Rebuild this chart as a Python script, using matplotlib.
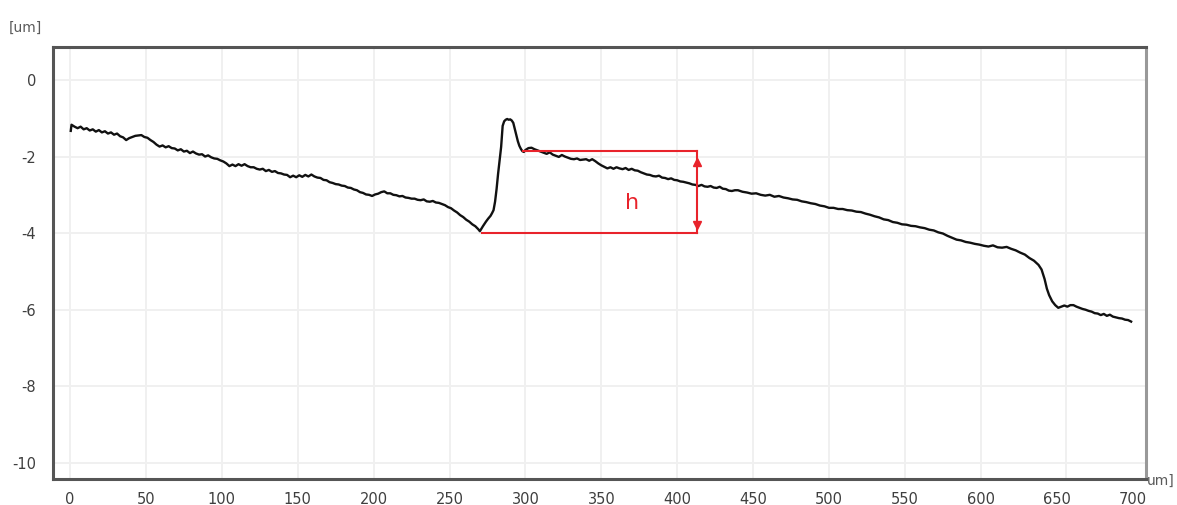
import numpy as np
import matplotlib
matplotlib.use('Agg')
import matplotlib.pyplot as plt

# ===== profile data (um) =====
x_um = [0.5, 1, 3, 5, 7, 9, 11, 13, 15, 17, 19, 21, 23, 25, 27, 29, 31, 33, 35, 37, 39, 41, 43, 45, 47, 49,
        51, 53, 55, 57, 59, 61, 63, 65, 67, 69, 71, 73, 75, 77, 79, 81, 83, 85, 87, 89, 91, 93, 95, 97, 99,
        101, 103, 105, 107, 109, 111, 113, 115, 117, 119, 121, 123, 125, 127, 129, 131, 133, 135, 137, 139,
        141, 143, 145, 147,
        149, 151, 153, 155, 157, 159, 161, 163, 165, 167, 169, 171, 173, 175, 177, 179, 181, 183, 185, 187,
        189, 191, 193, 195, 197, 199,
        201, 203, 205, 207, 209, 211, 213, 215, 217, 219, 221, 223, 225, 227, 229, 231, 233, 235, 237, 239,
        241, 243, 245, 247, 249,
        251, 253, 255, 257, 259, 261, 263, 265, 267, 269, 270,
        272, 274, 275.5, 277, 278, 279, 280, 281, 282, 283, 284, 285, 286, 287, 288, 289, 290, 291, 292,
        293, 294, 295, 296, 297, 298, 299,
        300, 302, 304, 306, 308, 310, 312, 314, 316, 318, 320, 322, 324, 326, 328, 330, 332, 334, 336, 338,
        340, 342, 344, 346, 348, 350,
        352, 354, 356, 358, 360, 362, 364, 366, 368, 370, 372, 374, 376, 378, 380, 382, 384, 386, 388, 390,
        392, 394, 396, 398, 400, 402, 404, 406, 408, 410, 412, 414, 416, 418, 420, 422, 424, 426, 428, 430,
        432, 434, 436, 438,
        440, 443, 446, 449, 452, 455, 458, 461, 464, 467, 470, 473, 476, 479, 482, 485, 488, 491, 494, 497,
        500, 503, 506, 509, 512, 515, 518, 521, 524, 527, 530, 533, 536, 539, 542, 545, 548, 551, 554, 557,
        560, 563, 566, 569, 572, 575, 578, 581, 584, 587, 590, 593, 596, 599,
        602, 605, 608, 611, 614, 617, 620, 623, 626, 629, 632, 635, 638, 640, 642, 643.5, 645, 647, 649, 651,
        653, 655, 657, 659, 661, 663, 665, 667, 669, 671, 673, 675, 677, 679, 681, 683, 685, 687, 689, 691,
        693, 695, 697, 699]

z_um = [-1.33, -1.17, -1.22, -1.26, -1.22, -1.29, -1.26, -1.32, -1.29, -1.35, -1.31, -1.37, -1.34, -1.40,
        -1.37, -1.43, -1.40, -1.47, -1.50, -1.57, -1.52, -1.49, -1.46, -1.45, -1.44, -1.49,
        -1.51, -1.57, -1.62, -1.69, -1.74, -1.71, -1.76, -1.73, -1.78, -1.79, -1.84, -1.81, -1.87, -1.85,
        -1.91, -1.87, -1.92, -1.95, -1.94, -2.00, -1.97, -2.02, -2.05, -2.06, -2.10,
        -2.13, -2.18, -2.25, -2.21, -2.25, -2.20, -2.24, -2.20, -2.25, -2.28, -2.28, -2.32, -2.34, -2.32,
        -2.38, -2.35, -2.40, -2.38, -2.43, -2.44, -2.47, -2.48, -2.54, -2.50,
        -2.54, -2.49, -2.53, -2.48, -2.52, -2.47, -2.52, -2.55, -2.56, -2.61, -2.62, -2.67, -2.69, -2.72,
        -2.73, -2.76, -2.77, -2.81, -2.82, -2.86, -2.88, -2.93, -2.95, -2.99, -3.00, -3.03,
        -2.99, -2.97, -2.93, -2.91, -2.96, -2.96, -3.00, -3.01, -3.04, -3.03, -3.07, -3.08, -3.10, -3.10,
        -3.13, -3.14, -3.12, -3.17, -3.18, -3.16, -3.20, -3.21, -3.24, -3.27, -3.32,
        -3.35, -3.41, -3.46, -3.53, -3.58, -3.65, -3.70, -3.77, -3.82, -3.90, -3.95,
        -3.82, -3.70, -3.62, -3.55, -3.48, -3.40, -3.18, -2.85, -2.45, -2.10, -1.75, -1.20, -1.08, -1.04,
        -1.02, -1.04, -1.03, -1.06, -1.12, -1.28, -1.45, -1.60, -1.72, -1.80, -1.86, -1.88,
        -1.83, -1.78, -1.77, -1.81, -1.84, -1.87, -1.90, -1.93, -1.89, -1.95, -1.98, -2.01, -1.96, -2.00,
        -2.03, -2.06, -2.07, -2.05, -2.09, -2.08, -2.07, -2.11, -2.07, -2.12, -2.18, -2.23,
        -2.27, -2.31, -2.28, -2.32, -2.28, -2.31, -2.33, -2.30, -2.35, -2.32, -2.36, -2.37, -2.41, -2.44,
        -2.47, -2.48, -2.51, -2.52, -2.50, -2.55, -2.56, -2.59, -2.57, -2.61, -2.62, -2.65, -2.66, -2.68,
        -2.70, -2.73, -2.74, -2.77, -2.74, -2.78, -2.79, -2.77, -2.81, -2.82, -2.79, -2.84, -2.85, -2.89,
        -2.90, -2.88,
        -2.88, -2.92, -2.94, -2.97, -2.96, -3.00, -3.02, -3.00, -3.05, -3.03, -3.07, -3.09, -3.12, -3.13,
        -3.17, -3.19, -3.22, -3.24, -3.28, -3.30, -3.34, -3.34, -3.37, -3.37, -3.40, -3.41, -3.44, -3.45,
        -3.49, -3.52, -3.56, -3.59, -3.64, -3.66, -3.71, -3.73, -3.77, -3.78, -3.81, -3.82, -3.85, -3.87,
        -3.91, -3.93, -3.98, -4.01, -4.07, -4.12, -4.17, -4.19, -4.23, -4.25, -4.28, -4.30,
        -4.33, -4.35, -4.32, -4.37, -4.38, -4.36, -4.41, -4.45, -4.51, -4.56, -4.65, -4.72, -4.83, -4.95,
        -5.20, -5.45, -5.62, -5.78, -5.88, -5.95, -5.92, -5.89, -5.92, -5.88, -5.88, -5.92, -5.95, -5.98,
        -6.00, -6.03, -6.05, -6.09, -6.10, -6.14, -6.11, -6.16, -6.13, -6.18, -6.20, -6.22, -6.23, -6.26,
        -6.27, -6.31]

# step height annotation
H_X = 413
H_TOP_X0, H_TOP = 298.5, -1.85
H_BOT_X0, H_BOT = 271.4, -4.0

X_TICKS = list(range(0, 701, 50))
Y_TICKS = [0, -2, -4, -6, -8, -10]
GRID_X = [0, 50, 100, 150, 200, 250, 300, 350, 400, 450, 500, 550, 600, 656]

RED = '#e8232b'
SPINE = '#555555'
LABEL = '#3f3f3f'

fig = plt.figure(figsize=(11.77, 5.05), dpi=100)
ax = fig.add_axes([53 / 1177, 1 - 479 / 505, (1146 - 53) / 1177, (479 - 47) / 505])

for gx in GRID_X:
    ax.axvline(gx, color='#f0f0f0', lw=1.4, zorder=0)
for gy in Y_TICKS:
    ax.axhline(gy, color='#f0f0f0', lw=1.4, zorder=0)

ax.plot(x_um, z_um, color='#111111', lw=1.7, zorder=3)

# h marker
ax.plot([H_TOP_X0, H_X], [H_TOP, H_TOP], color=RED, lw=1.5, zorder=4)
ax.plot([H_BOT_X0, H_X], [H_BOT, H_BOT], color=RED, lw=1.5, zorder=4)
ax.plot([H_X, H_X], [H_TOP, H_BOT], color=RED, lw=1.5, zorder=4)
ax.plot([H_X], [H_TOP - 0.3], marker='^', color=RED, ms=5.5, zorder=5)
ax.plot([H_X], [H_BOT + 0.22], marker='v', color=RED, ms=5.5, zorder=5)
ax.text(370, -3.21, 'h', color=RED, fontsize=16, ha='center', va='center', zorder=5)

ax.set_xlim(-11.2, 708.8)
ax.set_ylim(-10.42, 0.86)
ax.set_xticks(X_TICKS)
ax.set_xticklabels([str(v) for v in X_TICKS])
ax.set_yticks(Y_TICKS)
ax.set_yticklabels([str(v) for v in Y_TICKS])
ax.tick_params(axis='both', length=0, labelsize=10.5, labelcolor=LABEL)
ax.tick_params(axis='x', pad=9)
ax.tick_params(axis='y', pad=12)

for side in ['left', 'bottom', 'top']:
    ax.spines[side].set_color(SPINE)
    ax.spines[side].set_linewidth(2.2)
ax.spines['right'].set_color('#999999')
ax.spines['right'].set_linewidth(2.2)

fig.text(9 / 1177, 1 - 28 / 505, '[um]', fontsize=10, color='#5a5a5a', ha='left', va='center')
fig.text(1147 / 1177, 1 - 481 / 505, 'um]', fontsize=10, color='#5a5a5a', ha='left', va='center')

plt.savefig('out.png', dpi=100)
